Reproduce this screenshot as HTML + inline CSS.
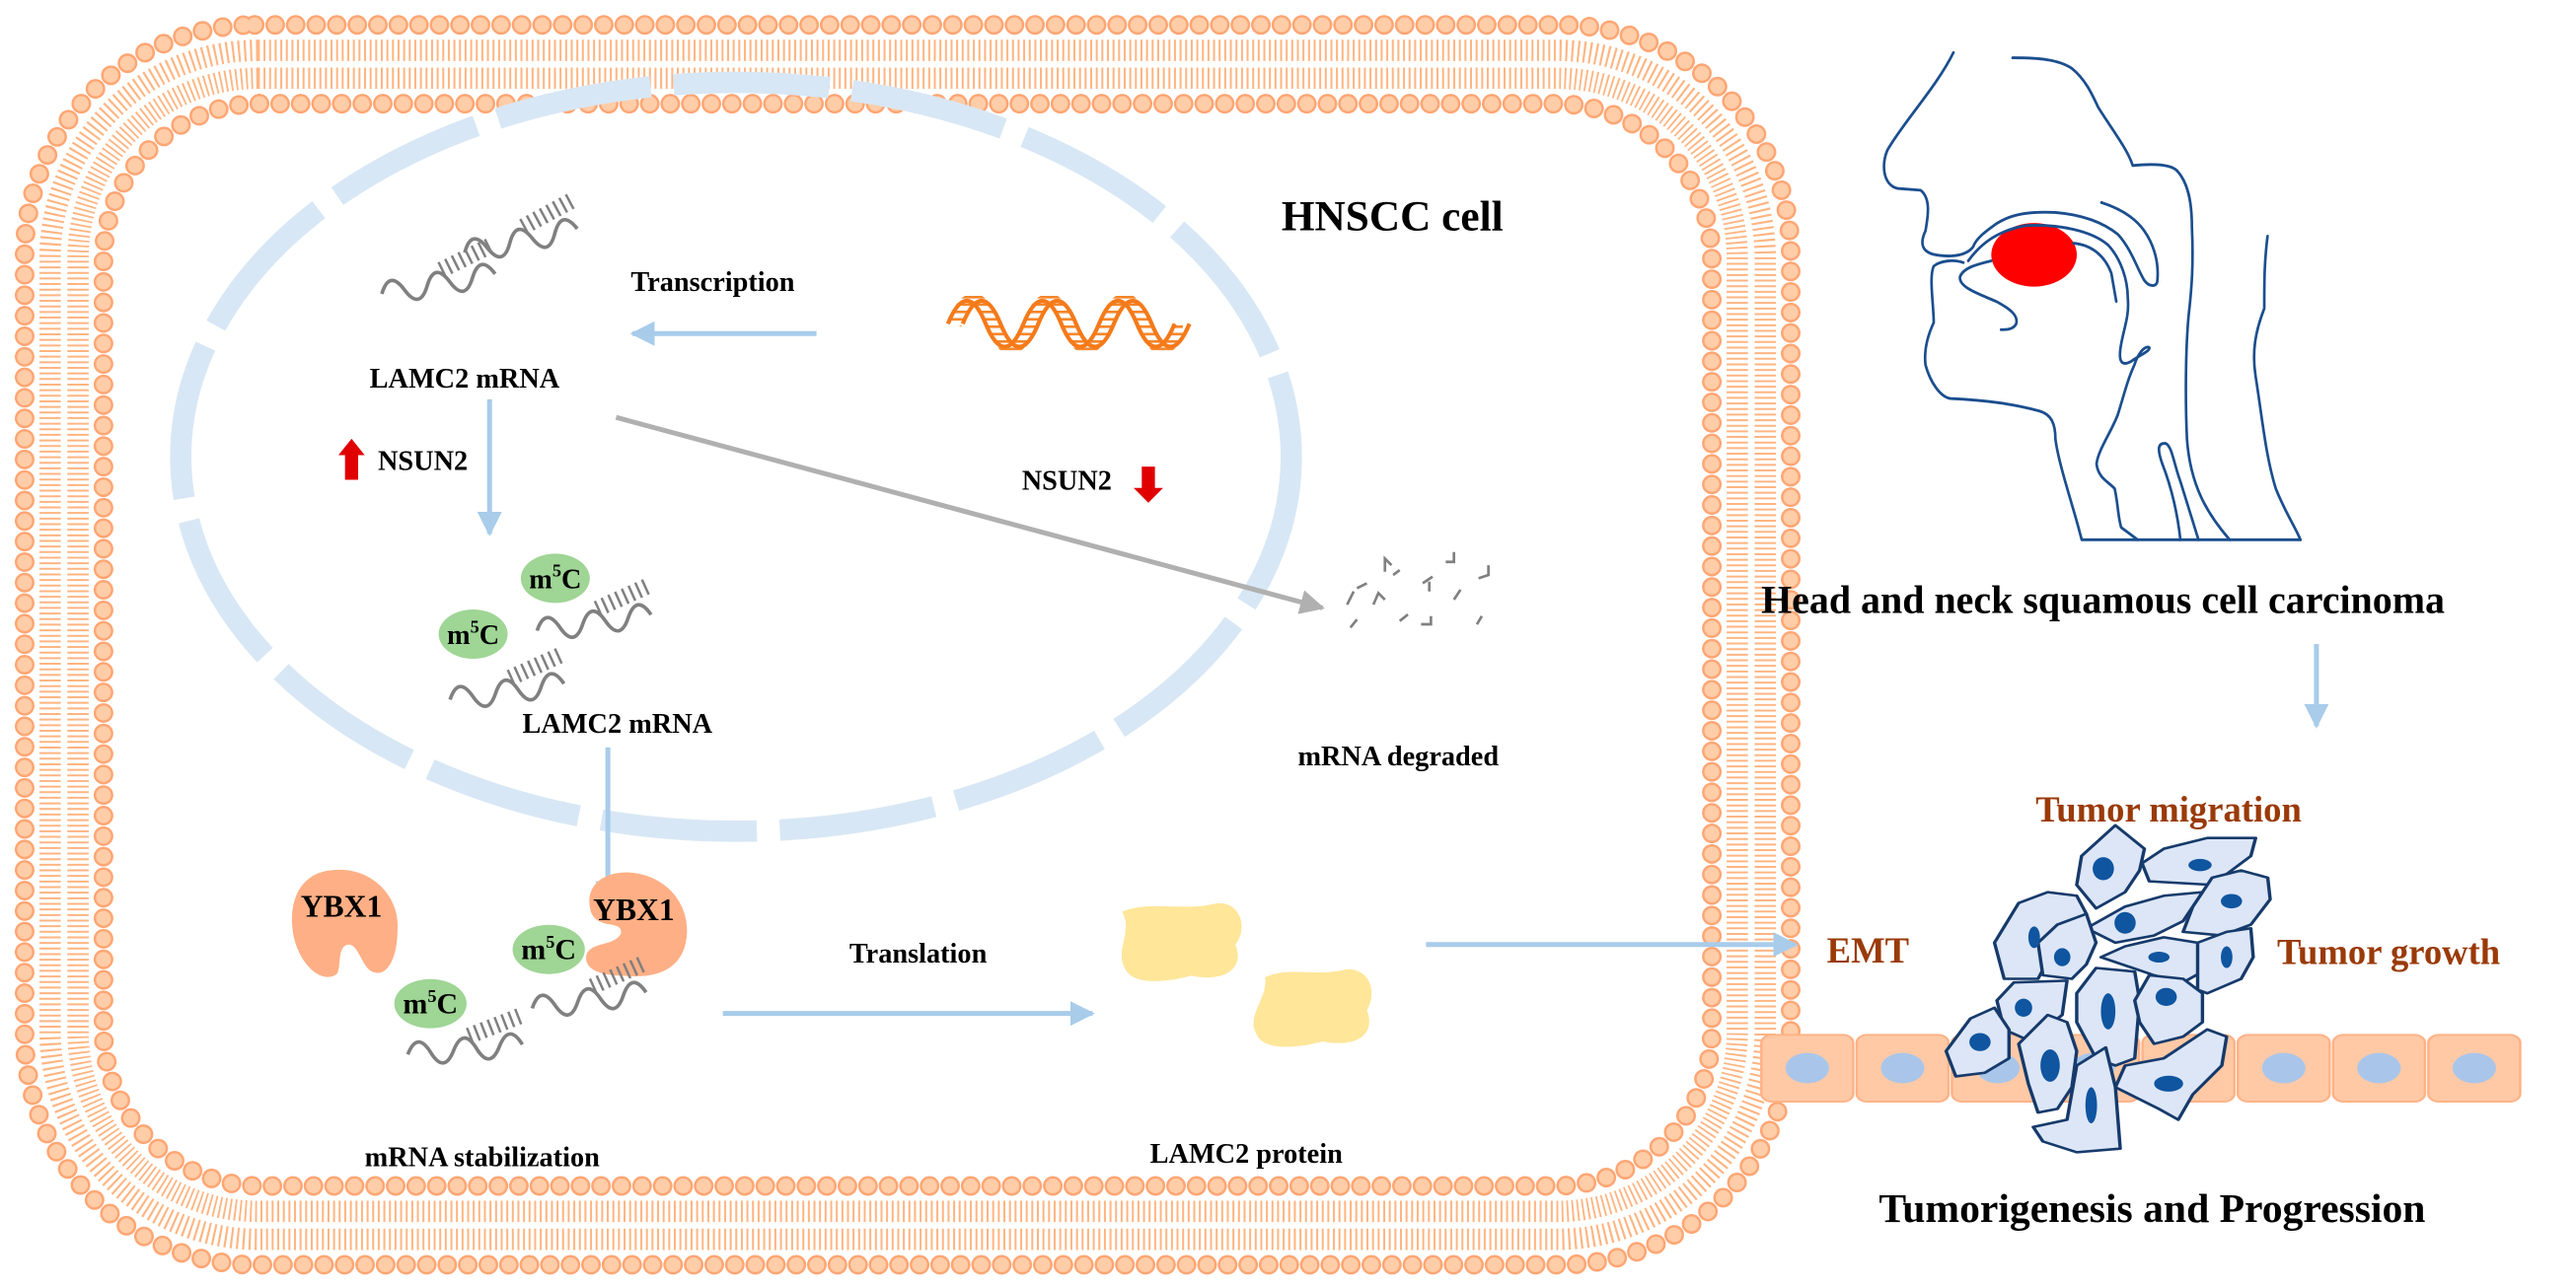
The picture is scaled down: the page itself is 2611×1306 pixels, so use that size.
<!DOCTYPE html>
<html><head><meta charset="utf-8"><style>
html,body{margin:0;padding:0;background:#fff;}
svg{display:block;}
text{font-family:"Liberation Serif",serif;font-weight:bold;}
</style></head><body>
<svg width="2611" height="1306" viewBox="0 0 1568 784" xmlns="http://www.w3.org/2000/svg">
<defs>
<g id="rna">
 <path d="M0,14 q7,-14 14,0 t14,0 t14,0 t14,0 t14,0" fill="none" stroke="#808080" stroke-width="2.2"/>
 <path d="M38,6 L72,-4" fill="none" stroke="#808080" stroke-width="10" stroke-dasharray="1.5 3"/>
</g>
<marker id="ab" viewBox="0 0 10 10" refX="9" refY="5" markerWidth="5" markerHeight="5" orient="auto"><path d="M0,0 L10,5 L0,10 z" fill="#A8CCEA"/></marker>
<marker id="ag" viewBox="0 0 10 10" refX="9" refY="5" markerWidth="5" markerHeight="5" orient="auto"><path d="M0,0 L10,5 L0,10 z" fill="#B0B0B0"/></marker>
<pattern id="rungs" width="8" height="4.5" patternUnits="userSpaceOnUse"><rect x="0" y="0" width="8" height="1.6" fill="#F5862A"/></pattern>
<mask id="dm"><path d="M581,197 q11.5,-28 23,0 t23,0 t23,0 t23,0 t23,0 t23,0" fill="none" stroke="#fff" stroke-width="9"/></mask>
</defs>

<!-- membrane -->
<rect x="39" y="39" width="1027" height="707" rx="118" fill="none" stroke="#FFB582" stroke-width="30" stroke-dasharray="1.2 2.2"/>
<rect x="39" y="39" width="1027" height="707" rx="118" fill="none" stroke="#fff" stroke-width="4"/>
<rect x="15" y="15" width="1075" height="755" rx="140" fill="none" stroke="#FFA674" stroke-width="12" stroke-dasharray="0 12.5" stroke-linecap="round"/>
<rect x="15" y="15" width="1075" height="755" rx="140" fill="none" stroke="#FFCDA8" stroke-width="9" stroke-dasharray="0 12.5" stroke-linecap="round"/>
<rect x="63" y="63" width="979" height="659" rx="95" fill="none" stroke="#FFA674" stroke-width="12" stroke-dasharray="0 12.5" stroke-linecap="round"/>
<rect x="63" y="63" width="979" height="659" rx="95" fill="none" stroke="#FFCDA8" stroke-width="9" stroke-dasharray="0 12.5" stroke-linecap="round"/>

<!-- nucleus -->
<ellipse cx="448" cy="278" rx="338" ry="228" fill="none" stroke="#D8E7F5" stroke-width="13" stroke-dasharray="95 14"/>

<text x="780" y="140" font-size="26">HNSCC cell</text>

<!-- DNA -->
<rect x="570" y="180" width="150" height="35" fill="url(#rungs)" mask="url(#dm)"/>
<path d="M577,197 q11.5,-28 23,0 t23,0 t23,0 t23,0 t23,0 t23,0" fill="none" stroke="#F57A1A" stroke-width="2.5"/>
<path d="M586,197 q11.5,-28 23,0 t23,0 t23,0 t23,0 t23,0 t23,0" fill="none" stroke="#F57A1A" stroke-width="2.5"/>

<text x="384" y="177" font-size="17">Transcription</text>
<line x1="497" y1="203" x2="385" y2="203" stroke="#A8CCEA" stroke-width="3" marker-end="url(#ab)"/>

<use href="#rna" transform="translate(230,165) rotate(-10)"/>
<use href="#rna" transform="translate(280,140) rotate(-12)"/>
<text x="225" y="236" font-size="17">LAMC2 mRNA</text>
<line x1="298" y1="243" x2="298" y2="325" stroke="#A8CCEA" stroke-width="3" marker-end="url(#ab)"/>
<path d="M206,277 L214,267 L222,277 L218,277 L218,292 L210,292 L210,277 z" fill="#E00000"/>
<text x="230" y="286" font-size="17">NSUN2</text>
<text x="622" y="298" font-size="17">NSUN2</text>
<path d="M695,284 L703,284 L703,297 L708,297 L699,306 L690,297 L695,297 z" fill="#E00000"/>
<line x1="375" y1="254" x2="805" y2="370" stroke="#B0B0B0" stroke-width="3" marker-end="url(#ag)"/>

<!-- m5C mRNA -->
<use href="#rna" transform="translate(272,412) rotate(-8)"/>
<use href="#rna" transform="translate(325,370) rotate(-8)"/>
<ellipse cx="288" cy="386" rx="21" ry="15" fill="#9FD595"/>
<text x="288" y="392" font-size="17" text-anchor="middle">m<tspan dy="-7" font-size="11">5</tspan><tspan dy="7">C</tspan></text>
<ellipse cx="338" cy="352" rx="21" ry="15" fill="#9FD595"/>
<text x="338" y="358" font-size="17" text-anchor="middle">m<tspan dy="-7" font-size="11">5</tspan><tspan dy="7">C</tspan></text>
<text x="318" y="446" font-size="17">LAMC2 mRNA</text>

<!-- degraded -->
<g stroke="#808080" stroke-width="1.6" fill="none">
<path d="M820,368 l4,-8 M826,358 l6,-3"/><path d="M843,348 l0,-8 l4,4 M848,350 l4,-3"/><path d="M866,355 l6,-4 M870,360 l0,-6"/><path d="M880,342 l5,0 l0,-6"/><path d="M900,352 l6,-2 l0,-6"/><path d="M836,368 l3,-7 l4,4"/><path d="M852,378 l5,-4"/><path d="M885,365 l4,-6"/><path d="M865,380 l6,0 l0,-5"/><path d="M902,375 l-3,5"/><path d="M822,382 l4,-5"/>
</g>
<text x="790" y="466" font-size="17">mRNA degraded</text>

<line x1="370" y1="455" x2="370" y2="550" stroke="#A8CCEA" stroke-width="3" marker-end="url(#ab)"/>

<!-- YBX1 -->
<path d="M200,530 C225,526 243,545 242,565 C242,585 235,594 228,592 C220,590 219,575 212,575 C205,576 208,588 205,593 C195,600 180,585 178,565 C176,545 185,532 200,530 z" fill="#FFAF85"/>
<text x="183" y="558" font-size="19">YBX1</text>
<path d="M382,531 C405,532 420,550 418,570 C416,590 400,596 380,594 C365,594 355,590 357,581 C360,573 375,576 378,568 C379,560 365,566 360,556 C355,541 365,531 382,531 z" fill="#FFAF85"/>
<text x="361" y="560" font-size="19">YBX1</text>
<use href="#rna" transform="translate(247,628) rotate(-5)"/>
<use href="#rna" transform="translate(322,600) rotate(-8)"/>
<ellipse cx="262" cy="611" rx="22" ry="15" fill="#9FD595"/>
<text x="262" y="617" font-size="18" text-anchor="middle">m<tspan dy="-7" font-size="11">5</tspan><tspan dy="7">C</tspan></text>
<ellipse cx="334" cy="578" rx="22" ry="15" fill="#9FD595"/>
<text x="334" y="584" font-size="18" text-anchor="middle">m<tspan dy="-7" font-size="11">5</tspan><tspan dy="7">C</tspan></text>
<text x="222" y="710" font-size="17">mRNA stabilization</text>

<text x="517" y="586" font-size="17">Translation</text>
<line x1="440" y1="617" x2="665" y2="617" stroke="#A8CCEA" stroke-width="3" marker-end="url(#ab)"/>
<path d="M683,555 C700,548 720,555 740,550 C755,548 760,565 752,575 C758,590 745,598 725,594 C710,598 690,600 685,590 C678,578 690,568 683,555 z" fill="#FFE699"/>
<path d="M770,595 C785,588 800,595 820,590 C835,590 838,605 832,615 C838,630 825,638 805,634 C790,638 770,640 765,630 C758,618 772,608 770,595 z" fill="#FFE699"/>
<text x="700" y="708" font-size="17">LAMC2 protein</text>
<line x1="868" y1="575" x2="1093" y2="575" stroke="#A8CCEA" stroke-width="3" marker-end="url(#ab)"/>

<!-- head -->
<g transform="translate(1129,-1.5) scale(0.2002,0.215)" fill="none" stroke="#1B4E8E" stroke-width="8" stroke-linecap="round" stroke-linejoin="round">
<ellipse cx="545" cy="728" rx="130" ry="90" fill="#FF0000" stroke="none"/>
<path d="M300,155 C250,250 150,350 100,430 C80,470 85,530 130,540 L200,545 C235,570 220,630 215,660 C195,700 205,725 260,730 C310,735 345,725 360,705 C370,680 400,660 430,640 C480,610 540,605 610,608 C700,615 760,640 800,670 C840,710 860,770 880,800 C895,820 920,820 920,800 C925,750 910,700 880,660 C850,620 800,595 750,580"/>
<path d="M330,750 C300,740 260,745 240,760 C225,790 240,870 240,920 C220,960 210,1000 215,1040 C230,1090 260,1130 290,1135 C400,1140 480,1150 560,1170 C600,1180 610,1210 610,1250 C620,1320 660,1430 680,1500 L690,1535 L1355,1535"/>
<path d="M415,745 C370,755 330,765 320,790 C315,820 380,840 430,860 C470,880 500,900 490,925 C480,940 460,940 445,940"/>
<path d="M345,745 C380,700 430,660 520,645 C620,640 720,660 770,700 C810,740 830,800 830,850 C835,900 820,930 810,980 C800,1030 810,1045 840,1030 C870,1010 900,1000 895,990 C880,985 860,1010 850,1040 C830,1080 820,1120 800,1180 C780,1230 740,1280 735,1320 C740,1360 770,1370 790,1390 C800,1430 800,1470 810,1500 L860,1535"/>
<path d="M665,695 C720,700 760,730 780,780 L795,860"/>
<path d="M480,170 C560,170 620,175 660,200 C700,230 720,270 740,310 C780,370 830,430 845,475 C900,470 960,470 980,490 C1010,520 1025,570 1025,650 C1030,750 1025,820 1015,900 C1005,1000 1005,1150 1010,1250 C1020,1380 1070,1460 1140,1535"/>
<path d="M990,1535 C980,1450 960,1380 935,1320 C920,1280 920,1260 945,1262 C965,1270 970,1320 990,1370 C1010,1430 1030,1490 1045,1535"/>
<path d="M1255,675 C1245,750 1245,800 1245,880 C1220,940 1205,1000 1220,1080 C1240,1200 1250,1300 1280,1390 C1310,1460 1340,1500 1355,1535"/>
</g>
<text x="1072" y="373" font-size="24">Head and neck squamous cell carcinoma</text>
<line x1="1410" y1="392" x2="1410" y2="442" stroke="#A8CCEA" stroke-width="3" marker-end="url(#ab)"/>

<text x="1320" y="500" font-size="22" fill="#9A3A08" text-anchor="middle">Tumor migration</text>
<text x="1112" y="586" font-size="22" fill="#9A3A08">EMT</text>
<text x="1386" y="587" font-size="22" fill="#9A3A08">Tumor growth</text>

<!-- tissue -->
<g transform="translate(1111,450.7) scale(0.2944,0.22)">
<g fill="#FFC9A6" stroke="#FFB286" stroke-width="5">
<rect x="-132" y="815" width="190" height="185" rx="22"/><rect x="65" y="815" width="190" height="185" rx="22"/><rect x="262" y="815" width="190" height="185" rx="22"/><rect x="459" y="815" width="190" height="185" rx="22"/><rect x="656" y="815" width="190" height="185" rx="22"/><rect x="853" y="815" width="190" height="185" rx="22"/><rect x="1050" y="815" width="190" height="185" rx="22"/><rect x="1247" y="815" width="190" height="185" rx="22"/>
</g>
<g fill="#A9C6EA">
<ellipse cx="-37" cy="907" rx="45" ry="42"/><ellipse cx="160" cy="907" rx="45" ry="42"/><ellipse cx="357" cy="907" rx="45" ry="42"/><ellipse cx="554" cy="907" rx="45" ry="42"/><ellipse cx="751" cy="907" rx="45" ry="42"/><ellipse cx="948" cy="907" rx="45" ry="42"/><ellipse cx="1145" cy="907" rx="45" ry="42"/><ellipse cx="1342" cy="907" rx="45" ry="42"/>
</g>
<g fill="#DCE6F7" stroke="#163A6B" stroke-width="7" stroke-linejoin="round">
<polygon points="600,235 660,300 650,360 620,420 560,465 520,400 530,320"/>
<polygon points="655,340 700,300 790,270 890,270 880,320 840,360 800,400 670,390"/>
<polygon points="760,460 800,380 860,360 915,380 920,440 880,510 820,540 740,530"/>
<polygon points="350,560 400,450 460,420 520,430 540,480 480,560 440,660 370,660"/>
<polygon points="540,520 620,460 700,430 780,420 740,500 680,540 600,560"/>
<polygon points="440,560 480,510 540,480 560,560 540,620 510,660 450,650"/>
<polygon points="570,600 620,570 700,545 770,560 780,640 740,670 680,650"/>
<polygon points="770,560 830,530 880,520 885,600 860,660 790,700 770,690"/>
<polygon points="355,720 390,670 500,665 490,760 420,830 370,800"/>
<polygon points="250,860 300,770 350,740 380,800 380,880 330,920 270,930"/>
<polygon points="520,700 560,630 640,640 650,720 640,880 600,900 560,880 520,780"/>
<polygon points="640,720 670,650 740,660 780,700 780,780 740,820 680,840 650,780"/>
<polygon points="400,840 460,760 500,780 520,860 510,960 480,1020 440,1030 420,950"/>
<polygon points="600,960 620,900 700,880 790,800 830,820 820,900 760,980 730,1050 690,1020"/>
<polygon points="430,1070 500,1050 520,900 580,850 600,960 610,1130 520,1140 450,1110"/>
</g>
<g fill="#0F55A0">
<ellipse cx="575" cy="355" rx="22" ry="32"/><ellipse cx="775" cy="345" rx="24" ry="17"/><ellipse cx="840" cy="445" rx="22" ry="20"/><ellipse cx="432" cy="545" rx="12" ry="30"/><ellipse cx="620" cy="505" rx="22" ry="30"/><ellipse cx="490" cy="600" rx="17" ry="25"/><ellipse cx="690" cy="600" rx="22" ry="15"/><ellipse cx="830" cy="600" rx="12" ry="30"/><ellipse cx="410" cy="740" rx="18" ry="25"/><ellipse cx="320" cy="835" rx="22" ry="25"/><ellipse cx="585" cy="750" rx="15" ry="50"/><ellipse cx="705" cy="710" rx="22" ry="25"/><ellipse cx="465" cy="900" rx="20" ry="45"/><ellipse cx="550" cy="1010" rx="12" ry="50"/><ellipse cx="710" cy="950" rx="30" ry="22"/>
</g>
</g>
<text x="1310" y="744" font-size="25" text-anchor="middle">Tumorigenesis and Progression</text>
</svg>
</body></html>
